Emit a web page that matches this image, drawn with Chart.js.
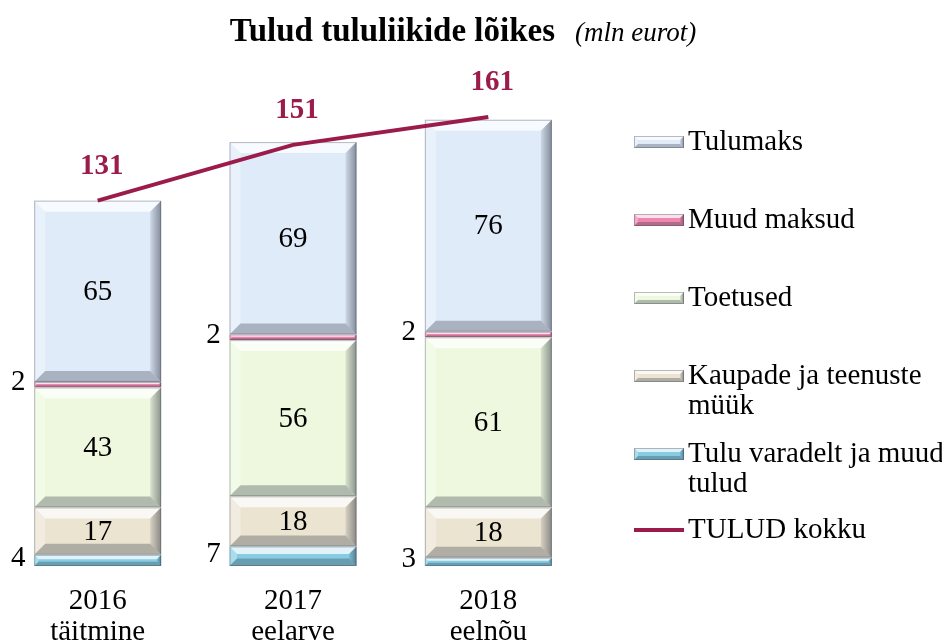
<!DOCTYPE html>
<html>
<head>
<meta charset="utf-8">
<script src="https://cdn.jsdelivr.net/npm/chart.js@4/dist/chart.umd.min.js"></script>
<style>
	html, body { margin: 0; padding: 0; background: #fff; }
	#wrap { width: 942px; height: 642px; position: relative; }
</style>
</head>
<body>
<div id="wrap"><canvas id="tulud"></canvas></div>
<script>
var aastad = [['2016', 'täitmine'], ['2017', 'eelarve'], ['2018', 'eelnõu']];
var tuluVaradelt = [4, 7, 3];
var kaupadeMyyk = [17, 18, 18];
var toetused = [43, 56, 61];
var muudMaksud = [2, 2, 2];
var tulumaks = [65, 69, 76];
var tuludKokku = [131, 151, 161];

var pealkiri = 'Tulud tululiikide lõikes';
var yhik = '(mln eurot)';

var SERIF = '"Liberation Serif", "Times New Roman", serif';
var LINE_COLOR = '#9b1b4a';

// legend rows, top to bottom
var legendRows = [
	{ lines: ['Tulumaks'], color: '#e0ebfa', y: 142 },
	{ lines: ['Muud maksud'], color: '#ef86ae', y: 220 },
	{ lines: ['Toetused'], color: '#edf8de', y: 298 },
	{ lines: ['Kaupade ja teenuste', 'müük'], color: '#ebe4d1', y: 376 },
	{ lines: ['Tulu varadelt ja muud', 'tulud'], color: '#86cde3', y: 454 },
	{ lines: ['TULUD kokku'], color: LINE_COLOR, y: 530, line: true }
];

function bevelRect(ctx, x0, y0, x1, y1, b) {
	// top
	ctx.fillStyle = 'rgba(255,255,255,0.75)';
	ctx.beginPath();
	ctx.moveTo(x0, y0); ctx.lineTo(x1, y0); ctx.lineTo(x1 - b, y0 + b); ctx.lineTo(x0 + b, y0 + b);
	ctx.closePath(); ctx.fill();
	// left
	ctx.fillStyle = 'rgba(255,255,255,0.3)';
	ctx.beginPath();
	ctx.moveTo(x0, y0); ctx.lineTo(x0 + b, y0 + b); ctx.lineTo(x0 + b, y1 - b); ctx.lineTo(x0, y1);
	ctx.closePath(); ctx.fill();
	// right
	var g = ctx.createLinearGradient(x1 - b, 0, x1, 0);
	g.addColorStop(0, 'rgba(40,45,60,0.1)');
	g.addColorStop(1, 'rgba(40,45,60,0.5)');
	ctx.fillStyle = g;
	ctx.beginPath();
	ctx.moveTo(x1, y0); ctx.lineTo(x1, y1); ctx.lineTo(x1 - b, y1 - b); ctx.lineTo(x1 - b, y0 + b);
	ctx.closePath(); ctx.fill();
	// bottom
	ctx.fillStyle = 'rgba(40,45,60,0.3)';
	ctx.beginPath();
	ctx.moveTo(x0, y1); ctx.lineTo(x1, y1); ctx.lineTo(x1 - b, y1 - b); ctx.lineTo(x0 + b, y1 - b);
	ctx.closePath(); ctx.fill();
	ctx.strokeStyle = 'rgba(60,65,80,0.35)';
	ctx.lineWidth = 1;
	ctx.strokeRect(x0 + 0.5, y0 + 0.5, x1 - x0 - 1, y1 - y0 - 1);
}

var bevelPlugin = {
	id: 'bevel',
	afterDatasetDraw: function(chart, args) {
		if (args.meta.type !== 'bar') return;
		var ctx = chart.ctx;
		ctx.save();
		args.meta.data.forEach(function(el) {
			var p = el.getProps(['x', 'y', 'base', 'width'], true);
			var x0 = p.x - p.width / 2, x1 = p.x + p.width / 2;
			var y0 = Math.min(p.y, p.base), y1 = Math.max(p.y, p.base);
			var b = Math.min(11, (y1 - y0) / 2.6);
			bevelRect(ctx, x0, y0, x1, y1, b);
		});
		ctx.restore();
	}
};

var labelPlugin = {
	id: 'labels',
	afterDatasetsDraw: function(chart) {
		var ctx = chart.ctx;
		ctx.save();
		ctx.textBaseline = 'middle';
		ctx.textAlign = 'center';
		chart.data.datasets.forEach(function(ds, i) {
			var meta = chart.getDatasetMeta(i);
			meta.data.forEach(function(el, j) {
				var p = el.getProps(['x', 'y', 'base', 'width'], true);
				var v = ds.data[j];
				if (meta.type === 'bar') {
					ctx.font = '29px ' + SERIF;
					ctx.fillStyle = '#000';
					var cy = (p.y + p.base) / 2;
					if (v >= 10) {
						ctx.fillText(v, p.x, cy + 1);
					} else {
						// small values sit left of the bar
						ctx.fillText(v, p.x - p.width / 2 - 16, cy - 2);
					}
				} else {
					ctx.font = 'bold 29px ' + SERIF;
					ctx.fillStyle = LINE_COLOR;
					ctx.fillText(v, p.x + 4, p.y - 34);
				}
			});
		});
		ctx.restore();
	}
};

var decorPlugin = {
	id: 'decor',
	afterDraw: function(chart) {
		var ctx = chart.ctx;
		ctx.save();
		// title
		ctx.textBaseline = 'alphabetic';
		ctx.textAlign = 'left';
		ctx.font = 'bold 33px ' + SERIF;
		var w1 = ctx.measureText(pealkiri).width;
		ctx.font = 'italic 27px ' + SERIF;
		var w2 = ctx.measureText(yhik).width;
		var gap = 20;
		var x = 463 - (w1 + gap + w2) / 2;
		ctx.fillStyle = '#000';
		ctx.font = 'bold 33px ' + SERIF;
		ctx.fillText(pealkiri, x, 41);
		ctx.font = 'italic 27px ' + SERIF;
		ctx.fillText(yhik, x + w1 + gap, 41);

		// legend
		ctx.textBaseline = 'middle';
		ctx.font = '29px ' + SERIF;
		legendRows.forEach(function(r) {
			if (r.line) {
				ctx.strokeStyle = r.color;
				ctx.lineWidth = 4;
				ctx.beginPath();
				ctx.moveTo(634, r.y);
				ctx.lineTo(684, r.y);
				ctx.stroke();
			} else {
				ctx.fillStyle = r.color;
				ctx.fillRect(634, r.y - 6, 50, 12);
				bevelRect(ctx, 634, r.y - 6, 684, r.y + 6, 4);
			}
			ctx.fillStyle = '#000';
			r.lines.forEach(function(t, k) {
				ctx.fillText(t, 688, r.y + k * 30);
			});
		});
		ctx.restore();
	}
};

var ctx = document.getElementById('tulud');

new Chart(ctx, {
	data: {
		labels: aastad,
		datasets: [
			{ type: 'line', label: 'TULUD kokku', data: tuludKokku, borderColor: LINE_COLOR, borderWidth: 4, pointRadius: 0, tension: 0, fill: false, order: 0 },
			{ type: 'bar', label: 'Tulu varadelt ja muud tulud', data: tuluVaradelt, backgroundColor: '#86cde3', order: 1, stack: 's' },
			{ type: 'bar', label: 'Kaupade ja teenuste müük', data: kaupadeMyyk, backgroundColor: '#ebe4d1', order: 1, stack: 's' },
			{ type: 'bar', label: 'Toetused', data: toetused, backgroundColor: '#edf8de', order: 1, stack: 's' },
			{ type: 'bar', label: 'Muud maksud', data: muudMaksud, backgroundColor: '#ef86ae', order: 1, stack: 's' },
			{ type: 'bar', label: 'Tulumaks', data: tulumaks, backgroundColor: '#e0ebfa', order: 1, stack: 's' }
		]
	},
	options: {
		responsive: true,
		maintainAspectRatio: false,
		animation: false,
		layout: { padding: { top: 64, right: 356, left: 0, bottom: 0 } },
		datasets: { bar: { barPercentage: 0.65, categoryPercentage: 1, borderWidth: 0 } },
		plugins: {
			legend: { display: false },
			title: { display: false },
			tooltip: { enabled: false }
		},
		scales: {
			x: {
				stacked: true,
				grid: { display: false, drawTicks: false },
				border: { display: false },
				ticks: { color: '#000', padding: 20, maxRotation: 0, font: { family: SERIF, size: 29, lineHeight: '31px' } },
				afterFit: function(scale) { scale.height = 76; }
			},
			y: {
				stacked: true,
				display: false,
				min: 0,
				max: 180
			}
		}
	},
	plugins: [bevelPlugin, labelPlugin, decorPlugin]
});
</script>
</body>
</html>
